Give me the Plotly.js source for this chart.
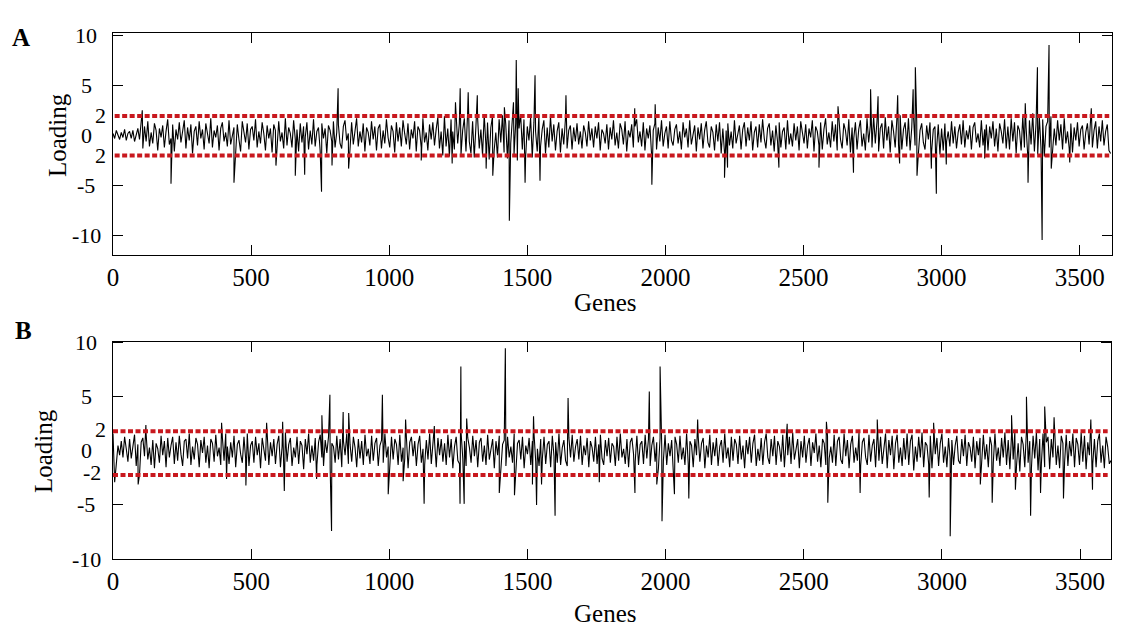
<!DOCTYPE html>
<html>
<head>
<meta charset="utf-8">
<script src="https://cdn.plot.ly/plotly-3.0.1.min.js"></script>
<style>
  html, body { margin: 0; padding: 0; background: #fff; }
  #chart { width: 1137px; height: 640px; }
</style>
</head>
<body>
<div id="chart"></div>
<script>
// base loading read every 6 genes, big spikes listed separately
const GENE_STEP = 6;

const loadingA = [
  0.2,-0.3,0.5,0.1,-0.4,0.3,-0.2,0.6,-0.5,0.2,0.4,-0.3,0.5,-0.6,0.1,0.7,-0.4,1.1,-1.3,0.9,
  -0.6,1.4,-1.1,0.3,-0.8,1.2,0.5,-1.5,0.7,-0.2,1.0,-1.2,0.4,1.6,-0.9,-0.3,1.1,-1.6,0.6,-0.4,
  1.3,-0.7,0.2,1.5,-1.3,0.8,-0.5,1.1,-1.8,0.4,0.9,-1.0,1.4,-0.3,0.6,-1.4,1.2,0.1,-0.8,1.7,
  -1.2,0.5,-0.2,1.0,-1.5,0.7,1.3,-0.6,0.3,-1.1,1.5,-0.9,0.2,0.8,-1.3,1.1,-0.4,-1.6,1.4,0.3,
  -0.7,1.2,-1.4,0.6,0.9,-0.5,1.6,-1.2,0.4,-0.8,1.3,0.2,-1.5,1.0,-0.3,0.7,-1.7,1.1,0.5,-0.9,
  1.4,-0.6,0.3,-1.3,1.7,-1.0,0.8,0.2,-1.2,1.5,-0.4,0.6,-1.6,1.2,-0.7,0.9,-0.2,1.3,-1.4,0.5,
  -0.9,1.6,-1.1,0.4,0.8,-1.5,1.2,-0.3,0.7,-1.8,1.0,0.5,-0.6,1.4,-1.2,0.3,1.1,-0.8,-1.3,0.9,
  1.5,-0.5,0.2,-1.4,1.3,-0.9,0.6,1.7,-1.1,0.4,-0.7,1.2,-1.6,0.8,0.3,-1.0,1.4,-0.4,0.9,-1.5,
  0.7,1.1,-1.3,0.5,-0.8,1.6,-0.2,-1.2,1.0,0.4,-1.7,1.3,-0.6,0.8,-1.1,1.5,0.2,-0.9,1.2,-1.4,
  0.6,-0.3,1.4,-1.6,0.9,0.5,-1.2,1.7,-0.7,0.3,-1.5,1.1,-0.4,1.3,-1.0,0.6,1.8,-1.3,0.4,-2.0,
  1.9,-1.1,0.7,-2.1,1.6,0.4,-1.4,2.2,-0.8,1.2,-1.9,0.5,1.7,-1.6,2.3,-0.6,-1.8,1.4,-2.2,0.9,
  1.8,-1.3,0.6,-2.0,2.1,-0.9,1.3,-2.4,0.8,1.9,-1.5,0.3,-2.2,1.6,-0.7,2.0,-1.7,1.1,-2.3,1.5,
  -0.8,2.4,-1.9,1.2,-2.5,0.7,2.1,-1.4,1.6,-2.1,0.9,-0.5,1.8,-2.2,1.3,0.4,-1.6,2.0,-1.1,0.6,
  1.5,-1.8,0.8,-1.2,1.9,-0.6,1.1,-1.5,0.4,1.3,-1.7,0.7,-0.9,1.6,-1.3,0.5,1.0,-1.4,0.8,-0.6,
  1.2,-0.9,0.4,-1.3,1.0,0.3,-1.1,1.4,-0.5,0.7,-1.2,0.9,-0.3,1.3,-1.5,0.6,0.2,-0.8,1.1,-1.4,
  0.8,-0.4,1.5,-1.0,0.3,-1.3,1.2,0.6,-0.9,1.4,-1.6,0.5,-0.2,1.1,-1.2,0.9,1.6,-0.7,0.4,-1.1,
  1.3,-1.5,0.7,-0.3,1.0,-1.9,0.5,1.2,-1.4,0.8,-0.6,1.5,-1.1,0.2,0.9,-1.3,1.4,-0.5,-1.0,0.6,
  1.1,-0.8,0.4,-1.4,1.3,-0.2,0.7,-1.2,1.5,-0.9,0.3,1.0,-1.6,0.8,-0.4,1.2,-1.3,0.5,1.4,-0.7,
  -1.2,0.9,0.3,-1.5,1.1,-0.6,1.3,-1.8,0.7,-1.7,0.5,1.2,-1.0,0.4,-1.3,1.5,-0.8,0.2,1.0,-1.4,
  0.6,1.3,-1.1,0.8,-0.5,1.4,-1.5,0.3,0.9,-1.2,1.1,-0.7,1.6,-0.3,-1.3,0.7,1.2,-1.0,0.5,-1.6,
  1.0,-0.6,1.3,-1.2,0.4,0.8,-1.4,1.5,-0.9,0.2,-1.1,1.2,-0.5,0.9,-1.5,1.4,0.3,-0.8,1.1,-1.3,
  0.7,-0.2,1.5,-1.6,0.9,0.4,-1.0,1.3,-1.4,0.6,1.7,-0.9,0.3,-1.2,1.4,-0.6,1.1,-1.5,1.8,-0.4,
  -1.3,1.2,0.5,-1.0,1.6,-1.7,0.8,-0.3,1.3,-1.4,0.6,1.5,-1.1,0.2,-1.5,1.7,-0.7,1.0,-1.2,1.9,
  -0.8,1.4,-1.6,0.7,1.2,-1.3,1.8,-0.5,0.9,-1.7,1.5,0.4,-1.2,1.6,-0.9,2.0,-1.4,0.6,1.3,-1.1,
  1.7,-1.5,0.8,2.1,-1.0,1.4,-1.8,0.5,1.2,-0.7,-1.4,1.0,-0.4,1.3,-1.6,0.6,0.9,-1.3,1.1,-1.9,
  0.7,-1.5,1.2,-0.6,0.4,-1.1,1.4,-0.8,0.9,-1.3,0.3,1.1,-0.9,1.5,-1.2,0.5,-0.4,1.0,-1.4,0.8,
  1.3,-0.7,0.2,-1.2,1.5,-1.0,0.6,1.1,-1.5,0.9,-0.3,1.4,-1.1,0.7,-1.6,1.2,0.4,-0.8,1.6,-1.3,
  0.9,-1.4,1.7,-0.6,1.3,-1.8,1.0,0.5,-1.5,1.9,-1.2,0.8,-2.0,1.5,-0.9,2.2,-1.6,1.2,-1.9,1.8,
  -1.3,1.6,-2.1,0.9,1.4,-1.2,1.9,-1.6,0.7,-1.0,1.5,-0.5,1.1,-1.4,1.7,-0.8,0.4,-1.3,1.2,-1.7,
  0.8,-0.5,1.3,-1.1,0.6,1.0,-1.4,0.3,1.2,-0.9,1.8,-1.2,0.5,1.4,-1.3,0.9,-0.6,1.5,-1.0,0.4,
  1.1,-1.5,-1.8
];
const spikeGenesA = [106,210,438,590,660,694,755,793,815,853,1116,1228,1240,1257,1286,1319,1351,1375,1417,1435,
  1450,1460,1467,1492,1528,1546,1640,1889,1951,1963,2214,2225,2411,2556,2625,2681,2743,2770,2841,2848,
  2897,2905,2911,2963,2981,3017,3156,3303,3313,3347,3364,3389,3397,3464,3542];
const spikeValsA = [2.5,-4.8,-4.7,-3.0,-4.0,-3.9,-5.6,-3.0,4.7,-3.3,-2.5,-2.8,3.3,4.7,4.3,4.0,-3.3,-4.0,2.8,-8.5,
  3.3,7.5,4.7,-4.7,6.0,-4.5,4.0,2.7,-4.9,3.1,-4.2,-3.2,-3.2,-3.2,2.9,-3.7,4.6,3.9,4.0,-2.8,
  4.6,6.8,-4.0,-3.3,-5.8,-2.9,-2.3,3.2,-4.7,6.8,-10.4,9.0,-3.3,-2.7,2.7];

const loadingB = [
  1.6,-2.9,-1.2,0.5,-0.4,0.9,-0.6,1.3,0.2,-1.0,1.1,-0.7,0.4,1.5,-1.4,0.6,-2.2,0.8,1.2,-0.5,
  1.5,-0.8,0.3,-1.3,1.0,-1.6,0.7,0.2,-1.1,1.4,-0.4,0.9,-1.5,1.2,-0.6,0.5,1.3,-1.2,0.8,-0.9,
  1.4,-0.3,-1.4,0.9,1.1,-0.7,1.6,-1.3,0.4,-0.8,1.2,0.6,-1.5,1.0,-0.2,1.3,-1.1,0.5,-1.6,1.1,
  0.7,-1.0,1.5,-0.5,0.3,-1.3,1.2,-0.9,1.6,0.4,-1.2,0.8,-0.6,1.4,-1.5,0.6,1.0,-0.3,-1.1,1.3,
  -0.7,1.6,-1.4,0.5,0.9,-1.1,1.3,-0.4,0.7,-1.6,1.2,0.3,-0.9,1.5,-1.3,0.8,-0.5,1.1,-1.2,0.6,
  1.4,-1.5,0.4,-0.8,1.7,-1.0,0.6,1.2,-1.4,0.3,-0.6,1.3,-1.2,0.9,0.5,-1.7,1.1,-0.3,1.6,-1.1,
  0.5,-0.9,1.2,-1.3,0.8,1.5,-0.6,-1.4,1.0,-0.2,1.3,-1.6,0.7,0.4,-1.1,1.4,-0.8,1.1,-1.5,0.9,
  -0.4,1.6,-1.2,0.6,-1.0,1.3,0.3,-1.5,1.1,-0.7,0.9,-1.3,1.5,-0.5,0.2,-1.2,1.4,-0.9,0.7,1.2,
  -1.4,0.5,1.0,-1.1,1.6,-0.6,0.4,-1.5,1.3,-0.8,1.1,0.6,-1.3,1.5,-1.0,0.3,-0.7,1.2,-1.6,0.8,
  1.3,-0.5,0.9,-1.4,0.6,1.4,-1.1,0.2,-1.3,1.0,-0.8,1.6,-1.2,0.5,0.8,-1.5,1.2,-0.4,1.1,-1.0,
  0.7,-1.3,1.5,-0.6,1.1,-1.6,0.4,1.3,-0.9,-1.2,1.6,-0.7,0.9,-1.4,1.2,0.3,-1.1,1.4,-0.5,1.0,
  -1.5,0.8,1.2,-1.0,0.5,-1.3,1.5,-0.8,0.3,1.1,-1.6,0.9,-0.4,1.4,-1.2,0.6,1.0,-1.4,1.3,-0.6,
  0.4,-1.1,1.6,-1.5,0.7,1.0,-0.8,1.3,-1.6,0.5,-0.3,1.2,-1.3,0.9,1.5,-1.0,0.2,-1.4,1.1,-0.7,
  1.3,-1.2,0.6,0.9,-1.5,1.4,-0.5,0.8,-1.1,1.6,-1.3,0.3,1.0,-0.9,-1.4,1.2,-0.6,1.5,-1.0,0.4,
  1.1,-0.8,1.4,-1.3,0.5,-0.4,1.2,-1.5,0.9,0.3,-1.0,1.3,-1.2,0.6,1.5,-0.7,-1.3,1.0,-0.5,1.2,
  -1.1,0.7,0.4,-1.4,1.3,-0.9,1.6,-0.6,0.2,-1.2,1.1,-1.5,0.8,1.2,-0.3,-1.0,1.4,-1.3,0.6,0.9,
  -1.2,1.5,-0.7,1.1,-1.4,0.5,1.3,-1.0,0.8,-1.6,1.2,0.4,-0.9,1.5,-1.3,0.7,-0.5,1.0,-1.5,1.3,
  0.6,-1.1,1.4,-0.8,0.3,-1.3,1.6,-1.2,0.9,0.5,-1.5,1.1,-0.4,1.3,-1.0,0.7,1.2,-1.6,0.5,-0.6,
  1.5,-1.3,0.8,-0.5,1.2,-1.4,0.4,1.0,-1.1,1.6,-0.7,0.3,-1.5,1.3,-0.9,1.1,0.6,-1.2,1.4,-0.8,
  0.5,-1.6,1.0,-0.3,1.3,-1.1,0.7,1.5,-1.4,0.2,-0.9,1.2,-1.3,0.8,1.6,-0.6,-1.2,1.1,-0.5,1.4,
  -1.3,0.9,0.4,-1.0,1.5,-1.5,0.6,-0.4,1.3,-1.2,1.7,-0.8,0.3,1.1,-1.6,0.9,-0.6,1.4,-1.1,0.5,
  1.2,-1.4,0.8,-0.2,1.6,-1.0,0.5,-1.5,1.1,0.7,-1.3,1.4,-0.7,0.4,-1.1,1.5,-1.4,0.9,1.3,-0.8,
  -1.2,1.6,-0.5,1.0,-1.6,0.6,1.4,-1.1,0.3,-0.9,1.7,-1.4,0.8,1.2,-0.6,-1.3,1.5,-1.0,0.5,1.1,
  -1.5,1.8,-0.9,1.3,-1.2,0.6,1.6,-1.6,1.0,-0.4,1.4,-1.7,0.7,1.5,-1.1,0.3,-1.4,1.2,-0.8,1.6,
  -1.3,0.9,1.5,-1.8,0.4,-1.0,1.3,-0.6,1.7,-1.5,0.8,0.5,-1.2,1.4,-1.6,1.0,-0.3,1.2,-1.4,0.7,
  1.6,-1.1,0.4,-1.5,1.2,-0.7,1.0,-1.3,0.5,1.4,-0.9,-1.2,1.1,-0.5,1.5,-1.4,0.8,0.3,-1.0,1.3,
  -1.6,0.9,-0.4,1.2,-1.2,1.5,-0.8,0.6,-1.5,1.3,0.5,-1.1,1.6,-0.9,0.3,-1.4,1.2,-0.6,1.7,-1.3,
  1.0,-1.7,1.5,-0.8,1.8,-1.4,0.7,-1.9,1.3,0.6,-1.5,1.9,-1.1,0.9,-1.6,1.4,-0.7,1.7,-1.8,1.1,
  -1.2,1.6,-1.5,0.8,1.3,-1.7,1.1,-0.6,1.9,-1.3,0.5,-1.6,1.4,0.7,-1.1,1.5,-1.4,0.9,-0.5,1.6,
  -1.5,1.2,0.6,-1.3,1.7,-1.0,1.4,-1.7,0.8,-0.4,1.8,-1.2,1.1,-1.5,0.9,1.6,-1.1,0.5,-1.6,1.3,
  0.4,-1.2,-0.9
];
const spikeGenesB = [91,119,393,411,481,556,614,620,737,756,785,791,833,853,975,996,1050,1059,1126,1163,
  1256,1259,1271,1280,1398,1420,1453,1518,1522,1533,1551,1600,1647,1760,1889,1941,1968,1980,1987,2032,
  2084,2116,2440,2582,2587,2704,2766,2954,2970,3030,3139,3182,3252,3266,3306,3321,3357,3372,3406,3440,
  3539,3545];
const spikeValsB = [-3.1,2.4,2.6,-2.6,-3.2,2.6,2.7,-3.7,-2.6,3.3,5.2,-7.4,3.6,3.5,5.2,-4.0,-2.8,2.9,-4.9,2.3,
  -4.9,7.8,-4.9,3.0,-3.9,9.5,-4.1,-3.1,3.2,-5.0,-3.1,-6.0,4.9,-2.9,-3.9,5.5,-3.1,7.8,-6.5,-4.0,
  -4.4,2.9,2.5,2.7,-4.8,-3.9,2.9,-4.3,2.6,-7.9,-3.1,-4.8,3.3,-3.6,5.0,-6.0,-3.9,4.1,3.1,-4.4,
  2.9,-3.6];

// cut-off lines (dotted red)
const cutGenesA = [6, 3607];
const cutUpperA = 1.93, cutLowerA = -2.0;
const cutGenesB = [0, 3600];
const cutUpperB = 1.82, cutLowerB = -2.24;

const xTicks = [0, 500, 1000, 1500, 2000, 2500, 3000, 3500];
const yTicks = [10, 5, -5, -10];
const yLabelValsA = [10, 5, 2, 0, -2, -5, -10];
const yLabelTextA = ['10', '5', '2', '0', '2', '-5', '-10'];
const yLabelValsB = [10, 5, 2, 0, -2, -5, -10];
const yLabelTextB = ['10', '5', '2', '0', '-2', '-5', '-10'];

const W = 1137, H = 640;
const px = x => x / W;
const py = y => 1 - y / H;
const FONT = 'Liberation Serif';

function buildSeries(base, genes, vals) {
  const pts = base.map((v, i) => [i * GENE_STEP, v]);
  genes.forEach((g, i) => pts.push([g, vals[i]]));
  pts.sort((a, b) => a[0] - b[0]);
  return { x: pts.map(p => p[0]), y: pts.map(p => p[1]) };
}

const sA = buildSeries(loadingA, spikeGenesA, spikeValsA);
const sB = buildSeries(loadingB, spikeGenesB, spikeValsB);

const sigLine = { color: '#000', width: 1.1 };
const cutLine = { color: '#c8181e', width: 4, dash: '5px,2.5px' };

const traces = [
  { x: sA.x, y: sA.y, xaxis: 'x', yaxis: 'y', mode: 'lines', line: sigLine },
  { x: cutGenesA, y: [cutUpperA, cutUpperA], xaxis: 'x', yaxis: 'y', mode: 'lines', line: cutLine },
  { x: cutGenesA, y: [cutLowerA, cutLowerA], xaxis: 'x', yaxis: 'y', mode: 'lines', line: cutLine },
  { x: sB.x, y: sB.y, xaxis: 'x2', yaxis: 'y2', mode: 'lines', line: sigLine },
  { x: cutGenesB, y: [cutUpperB, cutUpperB], xaxis: 'x2', yaxis: 'y2', mode: 'lines', line: cutLine },
  { x: cutGenesB, y: [cutLowerB, cutLowerB], xaxis: 'x2', yaxis: 'y2', mode: 'lines', line: cutLine }
];

const axisBase = {
  showline: true, mirror: 'ticks', linecolor: '#000', linewidth: 1,
  ticks: 'inside', ticklen: 10, tickcolor: '#000', tickwidth: 1,
  showgrid: false, zeroline: false, fixedrange: true,
  tickfont: { family: FONT, size: 25, color: '#000' }
};

const annotations = [];
function addText(text, x, y, size, opts) {
  annotations.push(Object.assign({
    text: text, xref: 'paper', yref: 'paper', x: px(x), y: py(y),
    showarrow: false, xanchor: 'center', yanchor: 'middle',
    font: { family: FONT, size: size, color: '#000' }
  }, opts || {}));
}

addText('<b>A</b>', 21, 37, 25);
addText('<b>B</b>', 23, 330, 25);
addText('Loading', 57, 135, 25, { textangle: -90 });
addText('Loading', 43, 451, 25, { textangle: -90 });
addText('Genes', 605, 302, 25);
addText('Genes', 605, 613, 25);

yLabelValsA.forEach((v, i) => annotations.push({
  text: yLabelTextA[i], xref: 'paper', yref: 'y', x: px(Math.abs(v) === 2 ? 100 : 86), y: v,
  showarrow: false, xanchor: 'center', yanchor: 'middle',
  font: { family: FONT, size: 22, color: '#000' }
}));
yLabelValsB.forEach((v, i) => annotations.push({
  text: yLabelTextB[i], xref: 'paper', yref: 'y2', x: px(Math.abs(v) === 2 ? (v < 0 ? 92 : 100) : 86), y: v,
  showarrow: false, xanchor: 'center', yanchor: 'middle',
  font: { family: FONT, size: 22, color: '#000' }
}));

const layout = {
  width: W, height: H,
  margin: { l: 0, r: 0, t: 0, b: 0 },
  paper_bgcolor: '#fff', plot_bgcolor: '#fff',
  showlegend: false,
  xaxis: Object.assign({}, axisBase, {
    domain: [px(113), px(1112)], anchor: 'y', range: [0, 3617], tickvals: xTicks
  }),
  yaxis: Object.assign({}, axisBase, {
    domain: [py(255), py(33)], anchor: 'x', range: [-11.9, 10.2], tickvals: yTicks, showticklabels: false
  }),
  xaxis2: Object.assign({}, axisBase, {
    domain: [px(113), px(1111)], anchor: 'y2', range: [0, 3612], tickvals: xTicks
  }),
  yaxis2: Object.assign({}, axisBase, {
    domain: [py(559), py(341.7)], anchor: 'x2', range: [-10, 10.1], tickvals: yTicks, showticklabels: false
  }),
  annotations: annotations
};

Plotly.newPlot('chart', traces, layout, { staticPlot: true, displayModeBar: false });
</script>
</body>
</html>
